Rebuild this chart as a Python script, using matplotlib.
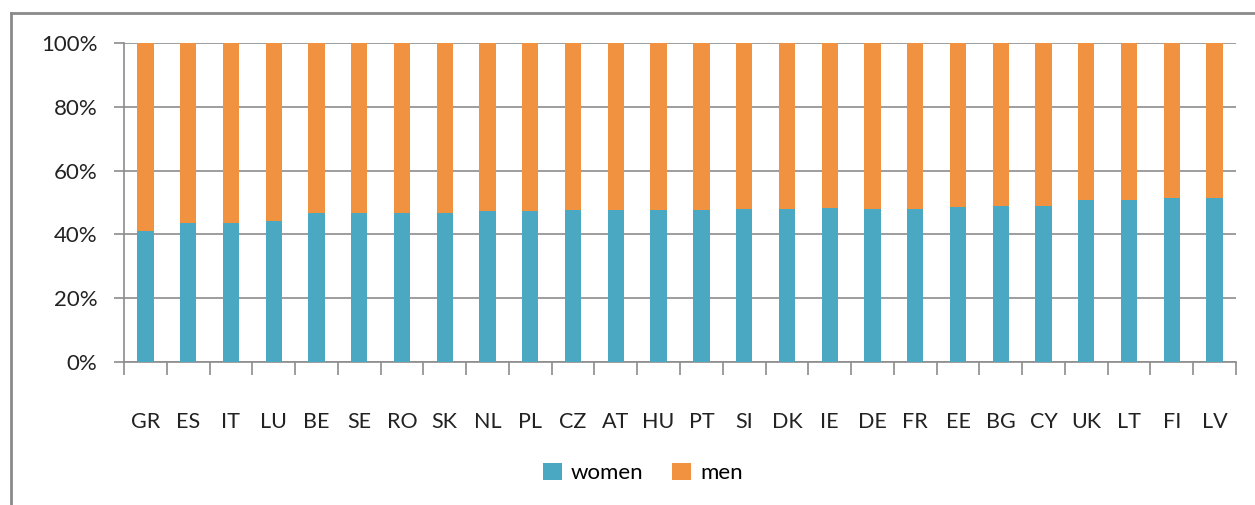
"""Share of women and men by country, stacked to 100%."""

import matplotlib

matplotlib.use("Agg")
import matplotlib.pyplot as plt
import numpy as np
from matplotlib.lines import Line2D
from matplotlib.patches import Patch

countries = ["GR", "ES", "IT", "LU", "BE", "SE", "RO", "SK", "NL", "PL", "CZ", "AT", "HU",
             "PT", "SI", "DK", "IE", "DE", "FR", "EE", "BG", "CY", "UK", "LT", "FI", "LV"]
women = [41.1, 43.6, 43.6, 44.3, 46.8, 46.8, 46.8, 46.8, 47.2, 47.2, 47.7, 47.7, 47.7,
         47.7, 48.0, 48.0, 48.2, 48.1, 48.1, 48.5, 49.0, 49.0, 50.9, 50.9, 51.4, 51.4]
men = [100 - w for w in women]
y_ticks = [0, 20, 40, 60, 80, 100]

TEAL = "#4aa8c2"
ORANGE = "#f19240"
GRID = "#8c8c8c"

plt.rcParams["font.family"] = ["Lato", "DejaVu Sans"]

W, H = 1255, 505
fig = plt.figure(figsize=(W / 100, H / 100), dpi=100)
ax = fig.add_axes([124 / W, 1 - 362 / H, (1236 - 124) / W, (362 - 43) / H])

x = np.arange(len(countries))
ax.bar(x, women, width=0.38, color=TEAL, zorder=3)
ax.bar(x, men, bottom=women, width=0.38, color=ORANGE, zorder=3)

ax.set_xlim(-0.5, len(countries) - 0.5)
ax.set_ylim(0, 100)
ax.set_yticks(y_ticks)
ax.set_yticklabels([f"{t}%" for t in y_ticks])
ax.yaxis.grid(True, color=GRID, lw=1.2, zorder=0)
ax.tick_params(axis="y", length=7, width=1.2, color=GRID, labelsize=16,
               labelcolor="#222222", pad=12)

ax.set_xticks(x)
ax.set_xticklabels(countries)
ax.set_xticks(np.arange(len(countries) + 1) - 0.5, minor=True)
ax.tick_params(axis="x", which="major", length=0, labelsize=15.5,
               labelcolor="#222222", pad=36)
ax.tick_params(axis="x", which="minor", length=9, width=1.2, color=GRID)

for side in ("top", "right"):
    ax.spines[side].set_visible(False)
for side in ("left", "bottom"):
    ax.spines[side].set_color(GRID)
    ax.spines[side].set_linewidth(1.2)

handles = [Patch(facecolor=TEAL, label="women"), Patch(facecolor=ORANGE, label="men")]
fig.legend(handles=handles, loc="center", bbox_to_anchor=(643 / W, 1 - 473 / H),
           ncol=2, frameon=False, fontsize=16, handlelength=0.85, handleheight=0.85,
           handletextpad=0.4, columnspacing=1.3)

# outer chart frame
fig.add_artist(Line2D([11 / W, 1], [1 - 13 / H, 1 - 13 / H], color="#8a8a8a", lw=2))
fig.add_artist(Line2D([11 / W, 11 / W], [0, 1 - 13 / H], color="#8a8a8a", lw=2))

fig.savefig("out.png", dpi=100)
